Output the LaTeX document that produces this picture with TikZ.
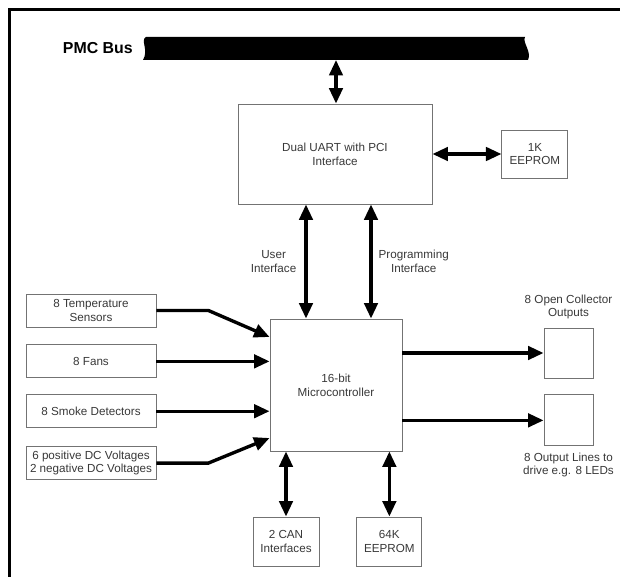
\documentclass[tikz,border=0pt]{standalone}
\usepackage{fontspec}
\setmainfont{Liberation Sans}
\usepackage{tikz}
\usetikzlibrary{arrows.meta,positioning}
\definecolor{boxline}{gray}{0.45}
\definecolor{txt}{gray}{0.22}

\begin{document}
\begin{tikzpicture}[x=0.025cm, y=-0.025cm,
  node distance=4mm and 17mm,
  box/.style={draw=boxline, line width=0.6pt, align=center, inner sep=0pt,
              text=txt, font=\fontsize{8.3}{9.8}\selectfont},
  lbl/.style={align=center, inner sep=0pt, text=txt, font=\fontsize{8.3}{9.8}\selectfont},
  arr/.style={-{Triangle[length=11pt,width=9.5pt]}, line width=2.4pt},
  darr/.style={{Triangle[length=11pt,width=9.5pt]}-{Triangle[length=11pt,width=9.5pt]}, line width=2.4pt}]
  \useasboundingbox (0,0) rectangle (620,577);
  \draw[line width=2.6pt] (9.5,577) -- (9.5,9.5) -- (620,9.5);
  \node[anchor=east, inner sep=0pt, font=\bfseries\fontsize{11.3}{13}\selectfont] (pmc) at (133,48) {PMC Bus};
  \fill (146,37) .. controls (140,40) and (149,50) .. (143,60) -- (528,60)
        .. controls (532,52) and (522,42) .. (525,37) -- cycle;
  \coordinate (bus) at (336,60);
  \node[box, minimum width=48.5mm, minimum height=25mm] (uart) at (335,154) {Dual UART with PCI\\Interface};
  \node[box, right=17.25mm of uart, minimum width=16.5mm, minimum height=12mm] (ee1) {1K\\EEPROM};
  \node[box, minimum width=33mm, minimum height=33mm] (mcu) at (336,385) {16-bit\\Microcontroller};
  \node[box, minimum width=32.5mm, minimum height=8.25mm] (temp) at (91,310.5) {8 Temperature\\Sensors};
  \node[box, below=4.25mm of temp, minimum width=32.5mm, minimum height=8.25mm] (fans) {8 Fans};
  \node[box, below=4mm of fans, minimum width=32.5mm, minimum height=8.25mm] (smoke) {8 Smoke Detectors};
  \node[box, below=4.5mm of smoke, minimum width=32.5mm, minimum height=8.25mm] (dcv) {6 positive DC Voltages\\2 negative DC Voltages};
  \node[box, minimum width=12.25mm, minimum height=12.5mm] (oc) at (568.5,353) {};
  \node[box, below=4mm of oc, minimum width=12.25mm, minimum height=12.75mm] (led) {};
  \node[lbl, above=2mm of oc] (oclbl) {8 Open Collector\\Outputs};
  \node[lbl, below=1.5mm of led] (ledlbl) {8 Output Lines to\\drive e.g. 8 LEDs};
  \node[box, minimum width=16.5mm, minimum height=12.25mm] (can) at (286,541.5) {2 CAN\\Interfaces};
  \node[box, right=9.25mm of can, minimum width=16.25mm, minimum height=12.25mm] (ee64) {64K\\EEPROM};
  \draw[darr] (bus) -- (bus |- uart.north);
  \draw[darr] (uart.east |- ee1.west) -- (ee1.west);
  \draw[darr] ([xshift=-7.5mm]mcu.north) -- node[lbl, left=2mm] (uilbl) {User\\Interface}
              ([xshift=-7.5mm]mcu.north |- uart.south);
  \draw[darr] ([xshift=8.75mm]mcu.north) -- node[lbl, right=1.5mm] (pilbl) {Programming\\Interface}
              ([xshift=8.75mm]mcu.north |- uart.south);
  \draw[arr] (temp.east) -- ++(52,0) -- ([yshift=12mm]mcu.west);
  \draw[arr] (fans.east) -- (fans.east -| mcu.west);
  \draw[arr] (smoke.east) -- (smoke.east -| mcu.west);
  \draw[arr] (dcv.east) -- ++(52,0) -- ([yshift=-13.25mm]mcu.west);
  \draw[arr] (mcu.east |- oc.west) -- (oc.west);
  \draw[arr] (mcu.east |- led.west) -- (led.west);
  \draw[darr] (mcu.south -| can.north) -- (can.north);
  \draw[darr] (mcu.south -| ee64.north) -- (ee64.north);
\end{tikzpicture}
\end{document}
